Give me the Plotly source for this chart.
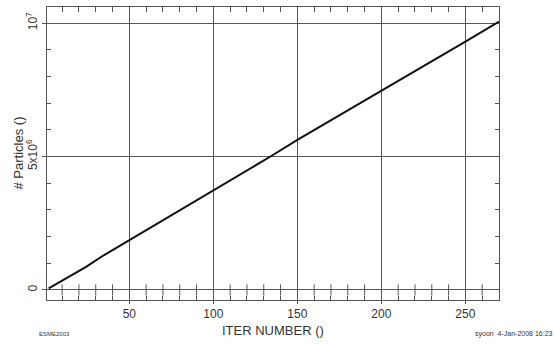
import plotly.graph_objects as go

# Particle count per iteration
iter_number = [2, 12, 22, 24, 35, 50, 100, 134, 150, 200, 250, 270]
particles = [0.06e6, 0.43e6, 0.80e6, 0.86e6, 1.31e6, 1.87e6, 3.72e6, 5.0e6,
             5.62e6, 7.45e6, 9.30e6, 10.05e6]

x_major = [50, 100, 150, 200, 250]
x_minor = [10, 20, 30, 40, 60, 70, 80, 90, 110, 120, 130, 140, 160,
           170, 180, 190, 210, 220, 230, 240, 260]
y_major = [0, 5e6, 1e7]
y_labels = ["0", "5x10<sup>6</sup>", "10<sup>7</sup>"]
y_minor = [1e6, 2e6, 3e6, 4e6, 6e6, 7e6, 8e6, 9e6]

X_RANGE = [1, 270]
Y_RANGE = [-0.375e6, 10.6e6]

AX = "#555555"
TXT = "#333333"
FONT = "Liberation Sans"

fig = go.Figure()
fig.add_trace(go.Scatter(
    x=iter_number, y=particles, mode="lines",
    line=dict(color="#111111", width=2), hoverinfo="skip"))
# small tick marks across the zero line (drawn on the mirrored axes pair)
fig.add_trace(go.Scatter(
    x=x_minor, y=[0] * len(x_minor), mode="markers",
    xaxis="x2", yaxis="y2",
    marker=dict(symbol="line-ns-open", size=8, color=AX,
                line=dict(color=AX, width=1)),
    hoverinfo="skip"))

fig.update_layout(
    width=555, height=350,
    margin=dict(l=47, r=56, t=7, b=50),
    paper_bgcolor="white", plot_bgcolor="white",
    showlegend=False,
    font=dict(family=FONT, color=TXT, size=12),
    xaxis=dict(
        range=X_RANGE, tickmode="array", tickvals=x_major,
        ticktext=[str(v) for v in x_major],
        showgrid=True, gridcolor=AX, gridwidth=1,
        showline=True, linecolor=AX, linewidth=1, mirror=True,
        ticks="outside", ticklen=3, tickcolor=AX,
        zeroline=False, tickfont=dict(size=12, color=TXT),
        minor=dict(tickmode="array", tickvals=x_minor, ticks="inside",
                   ticklen=4, tickcolor=AX, tickwidth=1, showgrid=False),
    ),
    yaxis=dict(
        range=Y_RANGE, tickmode="array", tickvals=y_major,
        ticktext=y_labels, tickangle=-90,
        showgrid=True, gridcolor=AX, gridwidth=1,
        showline=True, linecolor=AX, linewidth=1, mirror=True,
        ticks="outside", ticklen=4, tickcolor=AX,
        zeroline=False, tickfont=dict(size=12, color=TXT),
        minor=dict(tickmode="array", tickvals=y_minor, ticks="inside",
                   ticklen=4, tickcolor=AX, tickwidth=1, showgrid=False),
    ),
    # top and right frame ticks
    xaxis2=dict(
        range=X_RANGE, overlaying="x", side="top", anchor="y2",
        tickmode="array", tickvals=x_minor, ticks="inside", ticklen=5,
        tickcolor=AX, tickwidth=1, showticklabels=False,
        showgrid=False, zeroline=False, showline=False,
    ),
    yaxis2=dict(
        range=Y_RANGE, overlaying="y", side="right", anchor="x2",
        tickmode="array", tickvals=y_minor, ticks="inside", ticklen=4,
        tickcolor=AX, tickwidth=1, showticklabels=False,
        showgrid=False, zeroline=False, showline=False,
    ),
)

fig.add_annotation(text="ITER NUMBER ()", xref="paper", yref="paper",
                   x=0.5, y=0, yshift=-30, showarrow=False,
                   font=dict(size=13, color=TXT), yanchor="middle")
fig.add_annotation(text="# Particles ()", xref="paper", yref="paper",
                   x=0, xshift=-29, y=0.5, textangle=-90, showarrow=False,
                   font=dict(size=13, color=TXT), xanchor="center")
fig.add_annotation(text="ESME2003", xref="paper", yref="paper",
                   x=0, xshift=-10, y=0, yshift=-39, showarrow=False,
                   font=dict(size=6, color=TXT), xanchor="left")
fig.add_annotation(text="syoon  4-Jan-2008 16:23", xref="paper", yref="paper",
                   x=1, xshift=56, y=0, yshift=-40, showarrow=False,
                   font=dict(size=7, color=TXT), xanchor="right")

fig.write_html("out.html")
